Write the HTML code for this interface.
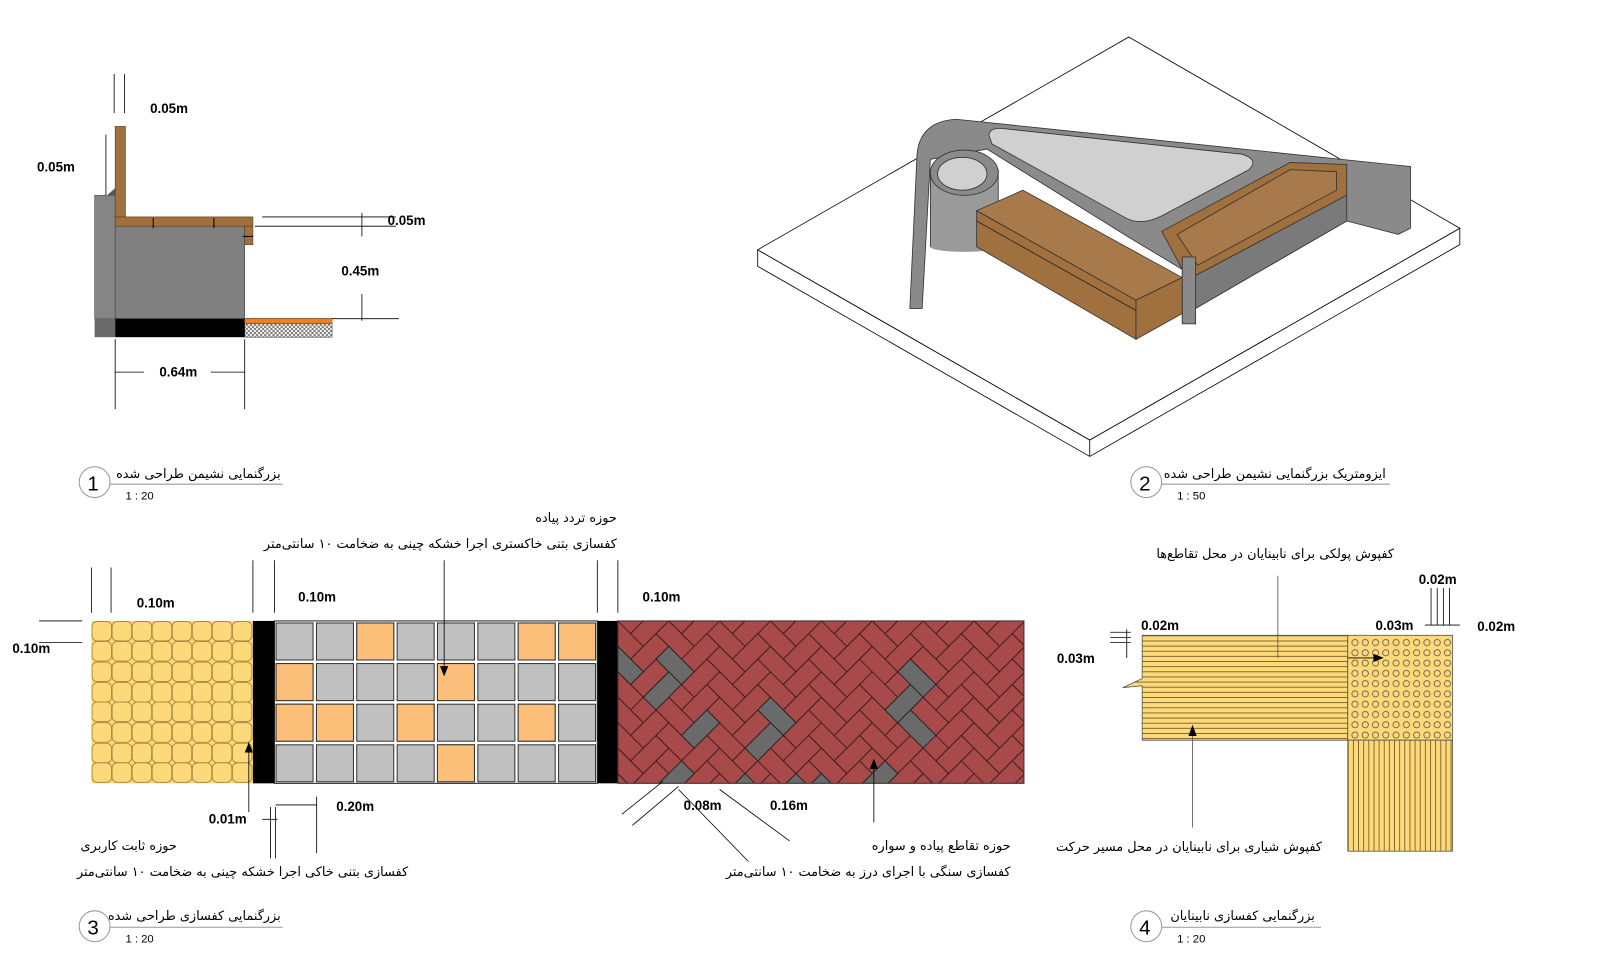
<!DOCTYPE html>
<html><head><meta charset="utf-8"><style>
html,body{margin:0;padding:0;background:#fff;width:1612px;height:954px;overflow:hidden}
svg{display:block;overflow:hidden}
.d{font-family:"Liberation Sans",sans-serif;font-weight:bold;font-size:13px;fill:#000}
.p{font-family:"DejaVu Sans",sans-serif;font-size:12.5px;fill:#000}
.s{font-family:"Liberation Sans",sans-serif;font-size:11px;fill:#000}
.n{font-family:"Liberation Sans",sans-serif;font-size:20px;fill:#000}
</style></head><body>
<svg width="1612" height="954" viewBox="0 0 1568 928" xmlns="http://www.w3.org/2000/svg">
<defs>
<pattern id="hb" patternUnits="userSpaceOnUse" width="56" height="56">
<rect width="56" height="56" fill="#a84a4a"/>
<g fill="none" stroke="#3a1a1a" stroke-width="0.7">
<rect x="0" y="0" width="28" height="14"/><rect x="14" y="14" width="28" height="14"/><rect x="28" y="28" width="28" height="14"/><rect x="42" y="42" width="28" height="14"/><rect x="-14" y="42" width="28" height="14"/>
<rect x="0" y="14" width="14" height="28"/><rect x="14" y="28" width="14" height="28"/><rect x="28" y="42" width="14" height="28"/><rect x="28" y="-14" width="14" height="28"/><rect x="42" y="0" width="14" height="28"/>
</g></pattern>
<pattern id="xh" patternUnits="userSpaceOnUse" width="4" height="4"><rect width="4" height="4" fill="#fff"/><path d="M0 0L4 4M4 0L0 4" stroke="#444" stroke-width="0.6"/></pattern>
<clipPath id="rc"><rect x="601" y="604" width="395" height="158"/></clipPath>
</defs>

<!-- ===== Drawing 1 ===== -->
<g stroke="#000" stroke-width="0.8" fill="none">
<line x1="111" y1="72" x2="111" y2="110"/><line x1="121" y1="72" x2="121" y2="110"/>
<line x1="103" y1="131" x2="103" y2="190"/>
<line x1="255" y1="211" x2="385" y2="211"/><line x1="248" y1="220" x2="385" y2="220"/>
<line x1="352" y1="207" x2="352" y2="230"/><line x1="352" y1="286" x2="352" y2="312"/>
<line x1="238" y1="310" x2="388" y2="310"/>
<line x1="112" y1="330" x2="112" y2="398"/><line x1="238" y1="330" x2="238" y2="398"/>
<line x1="112" y1="362" x2="140" y2="362"/><line x1="205" y1="362" x2="238" y2="362"/>
</g>
<rect x="92" y="190" width="20" height="120" fill="#858585" stroke="#555" stroke-width="0.6"/>
<polygon points="104,190 112,183 112,190" fill="#555"/>
<rect x="92" y="310" width="20" height="18" fill="#6a6a6a"/>
<rect x="112" y="220" width="126" height="90" fill="#808080" stroke="#444" stroke-width="0.6"/>
<rect x="112" y="123" width="10" height="89" fill="#a0703f" stroke="#5a3a1a" stroke-width="0.6"/>
<rect x="112" y="211" width="134" height="9" fill="#a0703f" stroke="#5a3a1a" stroke-width="0.6"/>
<rect x="238" y="220" width="8" height="18" fill="#a0703f" stroke="#5a3a1a" stroke-width="0.6"/>
<g stroke="#000" stroke-width="1"><line x1="149" y1="212" x2="149" y2="222"/><line x1="208" y1="212" x2="208" y2="222"/><line x1="236" y1="230" x2="246" y2="230"/></g>
<rect x="112" y="310" width="126" height="18" fill="#000"/>
<rect x="238" y="310" width="85" height="5" fill="#f07f1e" stroke="#a04a00" stroke-width="0.5"/>
<rect x="238" y="315" width="85" height="13" fill="url(#xh)" stroke="#333" stroke-width="0.5"/>
<text class="d" x="146" y="110">0.05m</text>
<text class="d" x="36" y="167">0.05m</text>
<text class="d" x="377" y="219">0.05m</text>
<text class="d" x="332" y="268">0.45m</text>
<text class="d" x="155" y="366">0.64m</text>
<circle cx="92" cy="469" r="15" fill="#fff" stroke="#999"/><text class="n" x="85" y="477">1</text>
<line x1="107" y1="471" x2="275" y2="471" stroke="#999"/>
<text class="p" x="273" y="465" text-anchor="end">بزرگنمایی نشیمن طراحی شده</text>
<text class="s" x="122" y="486">1 : 20</text>

<!-- ===== Drawing 2 ===== -->
<g stroke="#000" stroke-width="0.8">
<polygon points="737,259 1060,444 1420,238 1420,222 1060,428 737,243" fill="#fff"/>
<polygon points="737,243 1098,36 1420,222 1060,428" fill="#fff"/>
<line x1="1060" y1="428" x2="1060" y2="444"/>
</g>
<g stroke="#333" stroke-width="0.8">
<path d="M885,300 L892,150 Q895,118 930,116 L1372,162 L1372,222 L1360,228 L1310,215 L1163,300 L1163,315 L1150,312 L1150,262 L1100,232 L960,145 L905,155 L897,300 Z" fill="#8a8a8a"/>
<path d="M962,132 Q962,124 975,125 L1208,150 Q1225,155 1215,165 L1130,210 Q1110,220 1095,212 L965,140 Z" fill="#d0d0d0"/>
<rect x="905" y="165" width="66" height="75" fill="#9a9a9a"/>
<ellipse cx="938" cy="240" rx="33" ry="5" fill="#9a9a9a" stroke="none"/>
<ellipse cx="938" cy="168" rx="33" ry="22" fill="#8a8a8a"/>
<ellipse cx="936" cy="169" rx="24" ry="16" fill="#d0d0d0"/>
<polygon points="950,205 995,185 1150,270 1105,292" fill="#a8794a"/>
<polygon points="950,205 1105,292 1105,330 950,240" fill="#a0703f"/>
<polygon points="1105,292 1150,270 1150,305 1105,330" fill="#a0703f"/>
<line x1="950" y1="215" x2="1105" y2="302" stroke="#222"/>
<polygon points="1130,225 1255,158 1310,160 1310,190 1163,268 1150,262" fill="#a0703f"/>
<polygon points="1145,228 1255,165 1300,167 1300,185 1165,258" fill="#a8794a"/>
<polygon points="1163,268 1310,190 1310,215 1163,300" fill="#7a7a7a"/>
<rect x="1150" y="250" width="13" height="65" fill="#8a8a8a"/>
</g>
<circle cx="1115" cy="469" r="15" fill="#fff" stroke="#999"/><text class="n" x="1108" y="477">2</text>
<line x1="1130" y1="471" x2="1352" y2="471" stroke="#999"/>
<text class="p" x="1348" y="465" text-anchor="end">ایزومتریک بزرگنمایی نشیمن طراحی شده</text>
<text class="s" x="1145" y="486">1 : 50</text>

<!-- ===== Drawing 3 ===== -->
<rect x="89" y="604" width="157" height="158" fill="#fdd97a"/>
<defs><g id="yr"><rect x="89.5" y="0" width="19" height="19" rx="5"/><rect x="109" y="0" width="19" height="19" rx="5"/><rect x="128.5" y="0" width="19" height="19" rx="5"/><rect x="148" y="0" width="19" height="19" rx="5"/><rect x="167.5" y="0" width="19" height="19" rx="5"/><rect x="187" y="0" width="19" height="19" rx="5"/><rect x="206.5" y="0" width="19" height="19" rx="5"/><rect x="226" y="0" width="19" height="19" rx="5"/></g></defs>
<g fill="#fdd97a" stroke="#a0803a" stroke-width="0.8">
<use href="#yr" y="604.5"/><use href="#yr" y="624"/><use href="#yr" y="644"/><use href="#yr" y="664"/><use href="#yr" y="683"/><use href="#yr" y="703"/><use href="#yr" y="723"/><use href="#yr" y="742"/>
</g>
<rect x="246" y="604" width="21" height="158" fill="#000"/>
<rect x="581" y="604" width="20" height="158" fill="#000"/>
<rect x="267" y="604" width="314" height="158" fill="#fff" stroke="#222"/>
<defs><g id="gr">
<rect x="268.5" y="0" width="36" height="36"/><rect x="307.8" y="0" width="36" height="36"/><rect x="347" y="0" width="36" height="36"/><rect x="386.3" y="0" width="36" height="36"/><rect x="425.5" y="0" width="36" height="36"/><rect x="464.8" y="0" width="36" height="36"/><rect x="504" y="0" width="36" height="36"/><rect x="543.3" y="0" width="36" height="36"/>
</g></defs>
<g fill="#c0c0c0" stroke="#333" stroke-width="1">
<use href="#gr" y="606"/><use href="#gr" y="645.5"/><use href="#gr" y="685"/><use href="#gr" y="724.5"/>
</g>
<g fill="#fbbf7a" stroke="#333" stroke-width="1">
<rect x="347" y="606" width="36" height="36"/><rect x="504" y="606" width="36" height="36"/><rect x="543.3" y="606" width="36" height="36"/>
<rect x="268.5" y="645.5" width="36" height="36"/><rect x="425.5" y="645.5" width="36" height="36"/>
<rect x="268.5" y="685" width="36" height="36"/><rect x="307.8" y="685" width="36" height="36"/><rect x="386.3" y="685" width="36" height="36"/><rect x="504" y="685" width="36" height="36"/>
<rect x="425.5" y="724.5" width="36" height="36"/>
</g>
<!-- herringbone -->
<g clip-path="url(#rc)">
<g transform="translate(601,604) rotate(45) scale(1.25)">
<rect x="-300" y="-600" width="1000" height="1000" fill="url(#hb)"/>
<g fill="#6a6a6a" stroke="#222" stroke-width="0.7">
<rect x="42" y="-14" width="28" height="14"/><rect x="56" y="0" width="14" height="28"/>
<rect x="98" y="0" width="14" height="28"/>
<rect x="126" y="-42" width="28" height="14"/><rect x="140" y="-28" width="14" height="28"/>
<rect x="196" y="-126" width="14" height="28"/>
<rect x="210" y="-112" width="28" height="14"/>
<rect x="182" y="-140" width="28" height="14"/>
<rect x="224" y="-70" width="14" height="28"/>
<rect x="154" y="14" width="28" height="14"/>
<rect x="112" y="42" width="14" height="28"/>
<rect x="14" y="14" width="28" height="14"/>
<rect x="196" y="-28" width="14" height="28"/><rect x="182" y="-14" width="28" height="14"/>
<rect x="0" y="42" width="14" height="28"/>
</g></g></g>
<rect x="601" y="604" width="395" height="158" fill="none" stroke="#333"/>
<g stroke="#000" stroke-width="0.8" fill="none">
<line x1="89" y1="552" x2="89" y2="596"/><line x1="108" y1="552" x2="108" y2="596"/>
<line x1="38" y1="604" x2="80" y2="604"/><line x1="38" y1="625" x2="80" y2="625"/>
<line x1="246" y1="545" x2="246" y2="596"/><line x1="267" y1="545" x2="267" y2="596"/>
<line x1="581" y1="545" x2="581" y2="596"/><line x1="601" y1="545" x2="601" y2="596"/>
<line x1="432" y1="545" x2="432" y2="650"/>
<line x1="242" y1="722" x2="242" y2="790"/>
<line x1="263" y1="785" x2="263" y2="835"/><line x1="268" y1="785" x2="268" y2="835"/>
<line x1="268" y1="783" x2="308" y2="783"/><line x1="308" y1="775" x2="308" y2="830"/>
<line x1="255" y1="797" x2="270" y2="797"/>
<line x1="850" y1="742" x2="850" y2="800"/>
<line x1="605" y1="792" x2="645" y2="760"/><line x1="615" y1="803" x2="660" y2="765"/>
<line x1="660" y1="768" x2="728" y2="838"/><line x1="700" y1="768" x2="768" y2="818"/>
</g>
<polygon points="428,648 436,648 432,658" fill="#000"/>
<polygon points="238,732 246,732 242,722" fill="#000"/>
<polygon points="846,748 854,748 850,738" fill="#000"/>
<text class="d" x="133" y="591">0.10m</text>
<text class="d" x="12" y="635">0.10m</text>
<text class="d" x="290" y="585">0.10m</text>
<text class="d" x="625" y="585">0.10m</text>
<text class="d" x="203" y="801">0.01m</text>
<text class="d" x="327" y="789">0.20m</text>
<text class="d" x="665" y="788">0.08m</text>
<text class="d" x="749" y="788">0.16m</text>
<text class="p" x="600" y="508" text-anchor="end">حوزه تردد پیاده</text>
<text class="p" x="600" y="533" text-anchor="end">کفسازی بتنی خاکستری اجرا خشکه چینی  به ضخامت ۱۰ سانتی‌متر</text>
<text class="p" x="172" y="827" text-anchor="end">حوزه ثابت کاربری</text>
<text class="p" x="397" y="852" text-anchor="end">کفسازی بتنی خاکی اجرا خشکه چینی  به ضخامت ۱۰ سانتی‌متر</text>
<text class="p" x="983" y="827" text-anchor="end">حوزه تقاطع پیاده و سواره</text>
<text class="p" x="983" y="852" text-anchor="end">کفسازی سنگی با اجرای درز به ضخامت ۱۰ سانتی‌متر</text>
<circle cx="92" cy="901" r="15" fill="#fff" stroke="#999"/><text class="n" x="85" y="909">3</text>
<line x1="107" y1="902" x2="275" y2="902" stroke="#999"/>
<text class="p" x="273" y="895" text-anchor="end">بزرگنمایی کفسازی طراحی شده</text>
<text class="s" x="122" y="917">1 : 20</text>

<!-- ===== Drawing 4 ===== -->
<defs>
<pattern id="hl" patternUnits="userSpaceOnUse" width="10" height="5" y="618"><rect width="10" height="5" fill="#fdd97a"/><line x1="0" y1="0.5" x2="10" y2="0.5" stroke="#6a5520" stroke-width="0.8"/></pattern>
<pattern id="vl" patternUnits="userSpaceOnUse" width="5" height="10" x="1311"><rect width="5" height="10" fill="#fdd97a"/><line x1="0.5" y1="0" x2="0.5" y2="10" stroke="#6a5520" stroke-width="0.8"/></pattern>
<pattern id="dt" patternUnits="userSpaceOnUse" width="10" height="10" x="1313" y="620"><rect width="10" height="10" fill="#fdd97a"/><circle cx="5" cy="5" r="3" fill="none" stroke="#444" stroke-width="0.7"/></pattern>
</defs>
<path d="M1111,618 L1311,618 L1311,720 L1111,720 L1111,667 L1092,669 L1111,660 Z" fill="url(#hl)" stroke="#555" stroke-width="0.8"/>
<rect x="1311" y="618" width="102" height="102" fill="url(#dt)" stroke="#555" stroke-width="0.8"/>
<rect x="1311" y="720" width="102" height="108" fill="url(#vl)" stroke="#555" stroke-width="0.8"/>
<g stroke="#000" stroke-width="0.8" fill="none">
<line x1="1080" y1="615" x2="1100" y2="615"/><line x1="1080" y1="620" x2="1100" y2="620"/><line x1="1080" y1="625" x2="1100" y2="625"/>
<line x1="1096" y1="612" x2="1096" y2="640"/>
<line x1="1392" y1="572" x2="1392" y2="608"/><line x1="1398" y1="572" x2="1398" y2="608"/><line x1="1404" y1="572" x2="1404" y2="608"/><line x1="1410" y1="572" x2="1410" y2="608"/>
<line x1="1386" y1="608" x2="1420" y2="608"/>
<line x1="1243" y1="560" x2="1243" y2="640" stroke="#555"/>
<line x1="1160" y1="712" x2="1160" y2="805" stroke="#555"/>
<line x1="1311" y1="640" x2="1340" y2="640"/>
</g>
<polygon points="1336,636 1336,644 1346,640" fill="#000"/>
<polygon points="1156,716 1164,716 1160,705" fill="#000"/>
<text class="d" x="1110" y="613">0.02m</text>
<text class="d" x="1028" y="645">0.03m</text>
<text class="d" x="1338" y="613">0.03m</text>
<text class="d" x="1380" y="568">0.02m</text>
<text class="d" x="1437" y="614">0.02m</text>
<text class="p" x="1356" y="543" text-anchor="end">کفپوش پولکی برای نابینایان در محل تقاطع‌ها</text>
<text class="p" x="1286" y="828" text-anchor="end">کفپوش شیاری برای نابینایان در محل مسیر حرکت</text>
<circle cx="1115" cy="901" r="15" fill="#fff" stroke="#999"/><text class="n" x="1108" y="909">4</text>
<line x1="1130" y1="902" x2="1285" y2="902" stroke="#999"/>
<text class="p" x="1279" y="895" text-anchor="end">بزرگنمایی کفسازی نابینایان</text>
<text class="s" x="1145" y="917">1 : 20</text>
</svg>
</body></html>
